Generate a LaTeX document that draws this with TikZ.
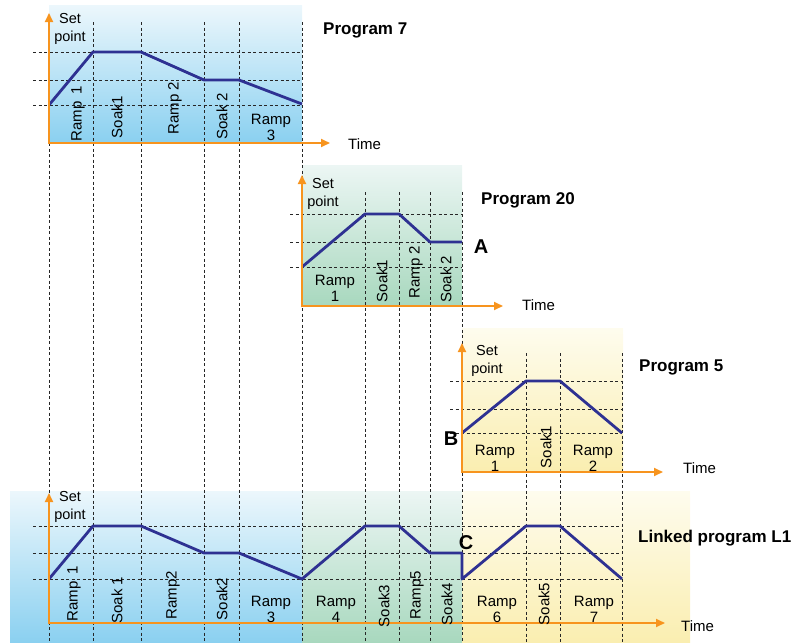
\documentclass[tikz,border=0pt]{standalone}
\usepackage{fontspec}
\setmainfont{Liberation Sans}
\usetikzlibrary{arrows.meta}
\definecolor{axisor}{RGB}{247,148,30}
\definecolor{prof}{RGB}{46,49,146}
\definecolor{blueTop}{RGB}{236,247,252}
\definecolor{blueBot}{RGB}{138,208,240}
\definecolor{greenTop}{RGB}{236,246,244}
\definecolor{greenBot}{RGB}{168,216,190}
\definecolor{yelTop}{RGB}{254,252,238}
\definecolor{yelBot}{RGB}{250,238,176}
\tikzset{
  gridline/.style={draw=black!85, line width=0.6pt, dash pattern=on 3pt off 2.5pt},
  axisline/.style={draw=axisor, line width=1.8pt, {Triangle[length=9pt,width=8pt]}-{Triangle[length=9pt,width=8pt]}},
  profile/.style={draw=prof, line width=2.8pt, line join=round},
  rotlabel/.style={rotate=90, inner sep=0pt, font=\fontsize{15}{16}\selectfont},
  hlabel/.style={align=center, inner sep=0pt, font=\fontsize{15}{16}\selectfont},
  setlabel/.style={align=center, inner sep=0pt, font=\fontsize{14.5}{17.5}\selectfont},
  timelabel/.style={anchor=west, inner sep=0pt, font=\fontsize{15}{16}\selectfont},
  title/.style={anchor=west, inner sep=0pt, font=\fontsize{17}{20}\selectfont\bfseries},
  letter/.style={inner sep=0pt, font=\fontsize{20}{22}\selectfont\bfseries}
}
\begin{document}
\begin{tikzpicture}[x=1pt,y=-1pt]
\useasboundingbox (0,0) rectangle (796,643);
% backgrounds
\shade[top color=blueTop,bottom color=blueBot] (49,5) rectangle (302,143);
\shade[top color=greenTop,bottom color=greenBot] (302,165) rectangle (462,306);
\shade[top color=yelTop,bottom color=yelBot] (462,328) rectangle (623,472);
\shade[top color=blueTop,bottom color=blueBot] (10,491) rectangle (302,643);
\shade[top color=greenTop,bottom color=greenBot] (302,491) rectangle (462,643);
\shade[top color=yelTop,bottom color=yelBot] (462,491) rectangle (690,643);
% vertical grid
\foreach \x in {49,93,141,204,239,302} \draw[gridline] (\x,22) -- (\x,643);
\foreach \x in {365,399,430,462} \draw[gridline] (\x,192) -- (\x,643);
\foreach \x in {526,560,622} \draw[gridline] (\x,353) -- (\x,643);
% horizontal grid
\foreach \y in {52,80,105} \draw[gridline] (33,\y) -- (302,\y);
\foreach \y in {214,242,267} \draw[gridline] (290,\y) -- (462,\y);
\foreach \y in {381,409,433} \draw[gridline] (450,\y) -- (622,\y);
\foreach \y in {526,553,579} \draw[gridline] (33,\y) -- (622,\y);
% profile coordinates
\coordinate (a1) at (49,105); \coordinate (a2) at (93,52); \coordinate (a3) at (141,52);
\coordinate (a4) at (204,80); \coordinate (a5) at (239,80); \coordinate (a6) at (302,104);
\coordinate (b1) at (302,267); \coordinate (b2) at (365,214); \coordinate (b3) at (399,214);
\coordinate (b4) at (430,242); \coordinate (b5) at (462,242);
\coordinate (c1) at (462,433); \coordinate (c2) at (526,381); \coordinate (c3) at (560,381);
\coordinate (c4) at (622,433);
\coordinate (d1) at (49,579); \coordinate (d2) at (93,526); \coordinate (d3) at (141,526);
\coordinate (d4) at (204,553); \coordinate (d5) at (239,553); \coordinate (d6) at (302,579);
\coordinate (d7) at (365,526); \coordinate (d8) at (399,526); \coordinate (d9) at (430,553);
\coordinate (d10) at (462,553); \coordinate (d11) at (462,579); \coordinate (d12) at (526,526);
\coordinate (d13) at (560,526); \coordinate (d14) at (622,579);
\draw[profile] (a1) -- (a2) -- (a3) -- (a4) -- (a5) -- (a6);
\draw[profile] (b1) -- (b2) -- (b3) -- (b4) -- (b5);
\draw[profile] (c1) -- (c2) -- (c3) -- (c4);
\draw[profile] (d1) -- (d2) -- (d3) -- (d4) -- (d5) -- (d6) -- (d7) -- (d8) -- (d9) -- (d10) -- (d11) -- (d12) -- (d13) -- (d14);
% axes
\coordinate (o7) at (49,143); \coordinate (y7) at (49,13); \coordinate (x7) at (330,143);
\coordinate (o20) at (302,306); \coordinate (y20) at (302,175); \coordinate (x20) at (503,306);
\coordinate (o5) at (462,472); \coordinate (y5) at (462,343); \coordinate (x5) at (663,472);
\coordinate (oL) at (49,623); \coordinate (yL) at (49,493); \coordinate (xL) at (665,623);
\draw[axisline] (y7) -- (o7) -- (x7);
\draw[axisline] (y20) -- (o20) -- (x20);
\draw[axisline] (y5) -- (o5) -- (x5);
\draw[axisline] (yL) -- (oL) -- (xL);
% Program 7 texts
\node[setlabel] (s7) at (70,29) {Set\\point};
\node[timelabel] (t7) at (348,144) {Time};
\node[title] (n7) at (323,30) {Program 7};
\node[rotlabel] (r71) at (78,114) {Ramp\hspace{0.45em}1};
\node[rotlabel] (s71) at (117,117) {Soak1};
\node[rotlabel] (r72) at (175,108) {Ramp 2};
\node[rotlabel] (s72) at (222,116) {Soak 2};
\node[hlabel] (r73) at (271,127) {Ramp\\3};
% Program 20 texts
\node[setlabel] (s20) at (323,194) {Set\\point};
\node[timelabel] (t20) at (522,305) {Time};
\node[title] (n20) at (481,200) {Program 20};
\node[letter] (A) at (481,247) {A};
\node[hlabel] (r201) at (335,288) {Ramp\\1};
\node[rotlabel] (s201) at (382,281) {Soak1};
\node[rotlabel] (r202) at (416,272) {Ramp 2};
\node[rotlabel] (s202) at (446,279) {Soak 2};
% Program 5 texts
\node[setlabel] (s5) at (487,361) {Set\\point};
\node[timelabel] (t5) at (683,468) {Time};
\node[title] (n5) at (639,367) {Program 5};
\node[letter] (B) at (451,439) {B};
\node[hlabel] (r51) at (495,458) {Ramp\\1};
\node[rotlabel] (s51) at (546,447) {Soak1};
\node[hlabel] (r52) at (593,458) {Ramp\\2};
% Linked texts
\node[setlabel] (sL) at (70,507) {Set\\point};
\node[timelabel] (tL) at (681,626) {Time};
\node[title] (nL) at (638,538) {Linked program L1};
\node[letter] (C) at (466,543) {C};
\node[rotlabel] (rL1) at (74,594) {Ramp\hspace{0.45em}1};
\node[rotlabel] (sL1) at (117,600) {Soak 1};
\node[rotlabel] (rL2) at (173,595) {Ramp2};
\node[rotlabel] (sL2) at (222,599) {Soak2};
\node[hlabel] (rL3) at (271,609) {Ramp\\3};
\node[hlabel] (rL4) at (336,609) {Ramp\\4};
\node[rotlabel] (sL3) at (384,606) {Soak3};
\node[rotlabel] (rL5) at (417,595) {Ramp5};
\node[rotlabel] (sL4) at (447,604) {Soak4};
\node[hlabel] (rL6) at (497,609) {Ramp\\6};
\node[rotlabel] (sL5) at (544,604) {Soak5};
\node[hlabel] (rL7) at (594,609) {Ramp\\7};
\end{tikzpicture}
\end{document}
